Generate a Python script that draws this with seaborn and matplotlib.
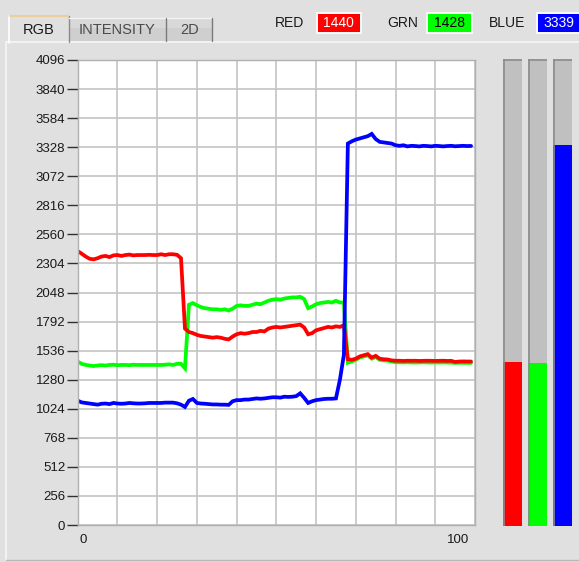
import numpy as np
import pandas as pd
import matplotlib
matplotlib.use("Agg")
import matplotlib.pyplot as plt
from matplotlib.patches import Rectangle
from matplotlib.lines import Line2D
import seaborn as sns

# ---------------- data ----------------
red_vals = [2413, 2390, 2365, 2345, 2340, 2350, 2365, 2370, 2360, 2375,
            2378, 2370, 2378, 2382, 2375, 2378, 2378, 2378, 2380, 2378,
            2378, 2385, 2378, 2385, 2385, 2380, 2350, 1730, 1700, 1690,
            1675, 1665, 1660, 1655, 1650, 1655, 1650, 1640, 1635, 1660,
            1680, 1690, 1685, 1690, 1700, 1700, 1710, 1705, 1730, 1740,
            1745, 1740, 1745, 1750, 1755, 1760, 1765, 1740, 1680, 1690,
            1715, 1725, 1735, 1745, 1740, 1750, 1745, 1760, 1460, 1455,
            1465, 1485, 1495, 1505, 1475, 1490, 1465, 1460, 1458, 1450,
            1447, 1447, 1445, 1447, 1446, 1447, 1445, 1446, 1447, 1446,
            1445, 1446, 1447, 1445, 1446, 1436, 1440, 1441, 1440, 1440]
grn_vals = [1439, 1420, 1410, 1405, 1400, 1405, 1408, 1405, 1410, 1412,
            1408, 1410, 1410, 1408, 1412, 1410, 1410, 1410, 1410, 1410,
            1410, 1410, 1412, 1415, 1410, 1420, 1420, 1380, 1940, 1955,
            1935, 1920, 1910, 1905, 1900, 1900, 1895, 1900, 1890, 1905,
            1930, 1935, 1930, 1930, 1940, 1950, 1945, 1960, 1975, 1985,
            1990, 1985, 1995, 2000, 2005, 2005, 2010, 1990, 1910, 1925,
            1945, 1955, 1960, 1965, 1960, 1975, 1960, 1960, 1430, 1440,
            1455, 1475, 1485, 1495, 1465, 1480, 1455, 1450, 1448, 1440,
            1434, 1433, 1432, 1433, 1432, 1431, 1432, 1433, 1432, 1431,
            1432, 1431, 1432, 1431, 1430, 1428, 1429, 1428, 1428, 1428]
blu_vals = [1095, 1080, 1075, 1070, 1065, 1060, 1068, 1070, 1065, 1075,
            1070, 1068, 1070, 1075, 1072, 1070, 1070, 1072, 1075, 1075,
            1075, 1075, 1078, 1078, 1078, 1072, 1060, 1040, 1095, 1110,
            1075, 1070, 1068, 1065, 1062, 1062, 1060, 1060, 1058, 1090,
            1100, 1100, 1105, 1105, 1110, 1115, 1112, 1115, 1120, 1125,
            1125, 1122, 1130, 1128, 1130, 1135, 1160, 1120, 1075, 1090,
            1100, 1105, 1110, 1112, 1112, 1115, 1280, 1500, 3360, 3380,
            3395, 3405, 3415, 3425, 3445, 3400, 3375, 3370, 3365, 3360,
            3345, 3340, 3345, 3335, 3340, 3338, 3335, 3340, 3338, 3335,
            3340, 3338, 3335, 3338, 3340, 3336, 3338, 3340, 3338, 3339]
channels = ["RED", "GRN", "BLUE"]
current_vals = [1440, 1428, 3339]
gauge_max = [4096, 4096, 4096]
y_ticks = list(range(0, 4097, 256))
x_tick_labels = ["0", "100"]
tab_labels = ["RGB", "INTENSITY", "2D"]

# ---------------- style ----------------
W, H = 579, 562
BG = "#e0e0e0"
sns.set_style("white")
plt.rcParams["font.family"] = ["Liberation Sans", "DejaVu Sans"]
colors = {"RED": "#ff0000", "GRN": "#00ff00", "BLUE": "#0000ff"}

fig = plt.figure(figsize=(W / 100, H / 100), dpi=100, facecolor=BG)


def fx(x):
    return x / W


def fy(y):
    return 1 - y / H


def frect(x0, y0, x1, y1, **kw):
    r = Rectangle((fx(x0), fy(y1)), fx(x1) - fx(x0), fy(y0) - fy(y1),
                  transform=fig.transFigure, **kw)
    fig.add_artist(r)
    return r


def fline(xs, ys, **kw):
    fig.add_artist(Line2D([fx(v) for v in xs], [fy(v) for v in ys],
                          transform=fig.transFigure, **kw))


# panel border
fline([6, 6], [42, 560], color="#f6f6f6", lw=1.2)
fline([6, 579], [42, 42], color="#f6f6f6", lw=1.2)
fline([6, 579], [560, 560], color="#b8b8b8", lw=1.0)

# tabs
tab_x = [(9, 69), (69, 166), (167, 212)]
for i, ((x0, x1), lab) in enumerate(zip(tab_x, tab_labels)):
    if i == 0:
        frect(x0, 15, x1, 43, facecolor=BG, edgecolor="none")
        fline([x0, x0], [43, 16], color="#ffffff", lw=1.2)
        fline([x0 + 1, x1 - 1], [15.5, 15.5], color="#f0c890", lw=1.2)
        fline([x1, x1], [16, 42], color="#8a8a8a", lw=1.0)
        fig.text(fx((x0 + x1) / 2), fy(30), lab, ha="center", va="center",
                 fontsize=10.5, color="#1a1a1a")
    else:
        frect(x0, 18, x1, 41, facecolor="#cfcfcf", edgecolor="none")
        frect(x0, 18, x1, 28, facecolor="#d8d8d8", edgecolor="none")
        fline([x0, x1], [18, 18], color="#f4f4f4", lw=1.0)
        fline([x1, x1], [18, 41], color="#7a7a7a", lw=1.0)
        fig.text(fx((x0 + x1) / 2), fy(30), lab, ha="center", va="center",
                 fontsize=10.5, color="#4a4a4a")

# value readouts
label_cx = [289.5, 402.7, 507.4]
box_x = [(315.5, 362), (425.8, 473.3), (536.4, 582)]
txt_col = ["#ffffff", "#000000", "#ffffff"]
for ch, v, lx, (b0, b1), tc in zip(channels, current_vals, label_cx, box_x, txt_col):
    fig.text(fx(lx), fy(23), ch, ha="center", va="center", fontsize=10, color="#1a1a1a")
    frect(b0, 12, b1, 34, facecolor="#f8f8f8", edgecolor="none")
    frect(b0 + 2, 14, b1 - 2, 32, facecolor=colors[ch], edgecolor="none")
    cx = 558.5 if ch == "BLUE" else (b0 + b1) / 2
    fig.text(fx(cx), fy(23), str(v), ha="center", va="center", fontsize=10, color=tc)

# ---------------- main chart ----------------
ax = fig.add_axes([fx(77.7), fy(525), fx(475) - fx(77.7), fy(60) - fy(525)])
ax.set_facecolor("white")

n = len(red_vals)
df = pd.DataFrame({
    "idx": list(range(n)) * 3,
    "value": grn_vals + red_vals + blu_vals,
    "channel": ["GRN"] * n + ["RED"] * n + ["BLUE"] * n,
})
sns.lineplot(data=df, x="idx", y="value", hue="channel",
             hue_order=["GRN", "RED", "BLUE"], palette=colors,
             estimator=None, legend=False, linewidth=2.7, ax=ax)
for ln in ax.lines:
    ln.set_solid_joinstyle("miter")

ax.set_xlim(0, 100)
ax.set_ylim(0, 4096)
ax.set_xticks(np.arange(0, 101, 10))
ax.set_xticklabels([])
ax.set_yticks(y_ticks)
ax.set_yticklabels([str(t) for t in y_ticks], fontsize=9.5, color="#1a1a1a")
ax.tick_params(axis="x", length=0, bottom=False)
ax.tick_params(axis="y", left=True, length=8, width=1.0, color="#303030", pad=1,
               direction="out")
ax.grid(True, color="#c4c4c4", linewidth=1.2)
ax.set_axisbelow(True)
for s in ax.spines.values():
    s.set_color("#b0b0b0")
    s.set_linewidth(1.0)
ax.set_xlabel("")
ax.set_ylabel("")

fig.text(fx(83), fy(540), x_tick_labels[0], ha="center", va="center", fontsize=9.5, color="#1a1a1a")
fig.text(fx(458), fy(540), x_tick_labels[1], ha="center", va="center", fontsize=9.5, color="#1a1a1a")

# ---------------- gauges ----------------
ax2 = fig.add_axes([fx(500), fy(525.7), fx(575) - fx(500), fy(59) - fy(525.7)])
ax2.set_facecolor("none")
sns.barplot(x=channels, y=gauge_max, color="#c0c0c0", saturation=1, width=0.736,
            edgecolor="none", ax=ax2)
bg_patches = list(ax2.patches)
sns.barplot(x=channels, y=current_vals, hue=channels, palette=colors, saturation=1,
            width=0.736, edgecolor="none", legend=False, ax=ax2)
for p in bg_patches:
    x0, w, h = p.get_x(), p.get_width(), p.get_height()
    ax2.plot([x0 + 0.02, x0 + 0.02], [0, h], color="#8c8c8c", lw=1.2, solid_capstyle="butt")
    ax2.plot([x0, x0 + w], [h - 8, h - 8], color="#8c8c8c", lw=1.2, solid_capstyle="butt")
ax2.set_xlim(-0.5, 2.5)
ax2.set_ylim(0, 4096)
ax2.axis("off")

fig.savefig("out.png", dpi=100, facecolor=BG)
